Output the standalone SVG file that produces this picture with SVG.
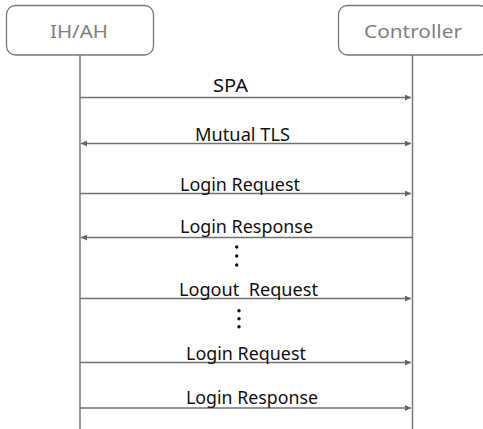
<svg xmlns="http://www.w3.org/2000/svg" width="483" height="429" viewBox="0 0 483 429">
<style>
.box{fill:#fff;stroke:#777;stroke-width:1.3}
.title{font-family:"Noto Sans","Open Sans",sans-serif;font-size:18.5px;fill:#808080}
.life{stroke:#7a7a7a;stroke-width:1.5;fill:none}
.msg{stroke:#707070;stroke-width:1.3;fill:none}
.lbl{font-family:"Noto Sans","Open Sans",sans-serif;font-size:17.5px;fill:#111}
.dot{fill:#111}
</style>
<defs>
<marker id="ah" viewBox="0 0 10 10" refX="10" refY="5" markerWidth="8" markerHeight="6" markerUnits="userSpaceOnUse" orient="auto-start-reverse">
<path d="M0,0 L10,5 L0,10 z" fill="#666"/>
</marker>
</defs>
<g id="ihah">
<rect class="box" x="6.5" y="5.5" width="147" height="49.5" rx="9"/>
<text class="title" x="50" y="38" textLength="58" lengthAdjust="spacingAndGlyphs">IH/AH</text>
</g>
<g id="controller">
<rect class="box" x="338.5" y="5.5" width="150" height="49.5" rx="9"/>
<text class="title" x="364" y="38" textLength="98" lengthAdjust="spacingAndGlyphs">Controller</text>
</g>
<g id="connectors">
<line class="life" x1="80" y1="55" x2="80" y2="429"/>
<line class="life" x1="412.5" y1="55" x2="412.5" y2="429"/>
<line class="msg" x1="80" y1="97.5" x2="411" y2="97.5" marker-end="url(#ah)"/>
<line class="msg" x1="81" y1="143.5" x2="411" y2="143.5" marker-start="url(#ah)" marker-end="url(#ah)"/>
<line class="msg" x1="80" y1="193.5" x2="411" y2="193.5" marker-end="url(#ah)"/>
<line class="msg" x1="412" y1="237.5" x2="81" y2="237.5" marker-end="url(#ah)"/>
<line class="msg" x1="80" y1="298.5" x2="411" y2="298.5" marker-end="url(#ah)"/>
<line class="msg" x1="80" y1="362.5" x2="411" y2="362.5" marker-end="url(#ah)"/>
<line class="msg" x1="80" y1="408" x2="411" y2="408" marker-end="url(#ah)"/>
</g>
<g id="labels">
<text class="lbl" x="213" y="92" textLength="35" lengthAdjust="spacingAndGlyphs">SPA</text>
<text class="lbl" x="195" y="141" textLength="95" lengthAdjust="spacingAndGlyphs">Mutual TLS</text>
<text class="lbl" x="180" y="191" textLength="120" lengthAdjust="spacingAndGlyphs">Login Request</text>
<text class="lbl" x="180" y="233" textLength="133" lengthAdjust="spacingAndGlyphs">Login Response</text>
<text class="lbl" x="179" y="296" textLength="139" lengthAdjust="spacingAndGlyphs" xml:space="preserve">Logout  Request</text>
<text class="lbl" x="186" y="360" textLength="120" lengthAdjust="spacingAndGlyphs">Login Request</text>
<text class="lbl" x="186" y="404" textLength="132" lengthAdjust="spacingAndGlyphs">Login Response</text>
</g>
<g id="ellipsis1">
<circle class="dot" cx="236.7" cy="247" r="1.7"/>
<circle class="dot" cx="236.7" cy="256" r="1.7"/>
<circle class="dot" cx="236.7" cy="265" r="1.7"/>
</g>
<g id="ellipsis2">
<circle class="dot" cx="239" cy="310.7" r="1.7"/>
<circle class="dot" cx="239" cy="318.7" r="1.7"/>
<circle class="dot" cx="239" cy="326.7" r="1.7"/>
</g>
</svg>
